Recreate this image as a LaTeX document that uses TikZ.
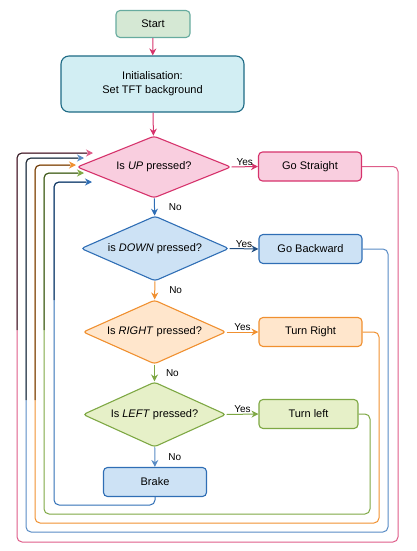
\documentclass[tikz,border=0pt]{standalone}
\usepackage{fontspec}
\setmainfont{Liberation Sans}
\usetikzlibrary{shapes.geometric,arrows.meta}
\definecolor{pinkline}{HTML}{D6336C}
\definecolor{pinkfill}{HTML}{F9CEDF}
\definecolor{bluefill}{HTML}{CDE2F5}
\definecolor{blueline}{HTML}{2F6EB5}
\definecolor{orangefill}{HTML}{FFE6CC}
\definecolor{orangeline}{HTML}{F09030}
\definecolor{greenfill}{HTML}{E6F0C8}
\definecolor{greenline}{HTML}{7EA844}
\definecolor{startfill}{HTML}{D5E8D4}
\definecolor{startline}{HTML}{67AB9F}
\definecolor{initfill}{HTML}{D2EEF3}
\definecolor{initline}{HTML}{1D6A85}
\begin{document}
\begin{tikzpicture}[x=1pt, y=-1pt, line width=1pt,
		font=\fontsize{11}{13}\selectfont,
		box/.style={draw, line width=1.1pt, rounded corners=4pt, minimum width=103pt, minimum height=29pt, inner sep=0pt},
		quest/.style={diamond, draw, line width=1.1pt, rounded corners=3pt, aspect=2.4, inner sep=0pt},
		flow/.style={-{Stealth[length=7pt,width=7pt]}},
		back/.style={rounded corners=5pt, -{Stealth[length=7pt,width=7pt]}},
		lbl/.style={font=\fontsize{10}{12}\selectfont, inner sep=1pt}
		]
	\useasboundingbox (0,0) rectangle (417,551);
	% blocks
	\node [box, fill=startfill, draw=startline, minimum width=74pt, minimum height=27pt] (start) at (153,24) {Start};
	\node [box, fill=initfill, draw=initline, rounded corners=8pt, minimum width=183pt, minimum height=56pt, align=center] (init) at (152.5,84) {Initialisation:\\[1pt]Set TFT background};
	\node [quest, fill=pinkfill, draw=pinkline, minimum width=154pt, minimum height=62pt] (qup) at (154,167) {Is \textit{UP} pressed?};
	\node [quest, fill=bluefill, draw=blueline, minimum width=148pt, minimum height=65pt] (qdown) at (155,248.5) {is \textit{DOWN} pressed?};
	\node [quest, fill=orangefill, draw=orangeline, minimum width=143pt, minimum height=64pt] (qright) at (154.5,332) {Is \textit{RIGHT} pressed?};
	\node [quest, fill=greenfill, draw=greenline, minimum width=143pt, minimum height=65pt] (qleft) at (154.5,414.5) {Is \textit{LEFT} pressed?};
	\node [box, fill=pinkfill, draw=pinkline] (straight) at (310,166.5) {Go Straight};
	\node [box, fill=bluefill, draw=blueline] (backward) at (310.5,249) {Go Backward};
	\node [box, fill=orangefill, draw=orangeline] (turnr) at (310.5,332) {Turn Right};
	\node [box, fill=greenfill, draw=greenline, minimum width=99pt] (turnl) at (308.5,414) {Turn left};
	\node [box, fill=bluefill, draw=blueline] (brake) at (155,482) {Brake};
	% loose ends of the way back
	\coordinate (tip1) at (93,153);
	\coordinate (tip2) at (84,158);
	\coordinate (tip3) at (76,165);
	\coordinate (tip4) at (84,173);
	\coordinate (tip5) at (92,182);
	% flow
	\draw [flow, pinkline] (start) -- (init);
	\draw [flow, pinkline] (init) -- (qup);
	\draw [flow, pinkline] (qup.east) -- node [lbl, above, black] {Yes} (straight.west);
	\draw [flow, blueline] (qup) -- node [lbl, right, black, xshift=13pt] {No} (qdown);
	\draw [flow, blueline!70!black] (qdown.east) -- node [lbl, above, black] {Yes} (backward.west);
	\draw [flow, orangeline] (qdown) -- node [lbl, right, black, xshift=13pt] {No} (qright);
	\draw [flow, orangeline] (qright.east) -- node [lbl, above, black] {Yes} (turnr.west);
	\draw [flow, greenline] (qright) -- node [lbl, right, black, xshift=10pt] {No} (qleft);
	\draw [flow, greenline] (qleft.east) -- node [lbl, above, black] {Yes} (turnl.west);
	\draw [flow, blueline!80] (qleft) -- node [lbl, right, black, xshift=12pt] {No} (brake);
	% back to the first question
	\draw [back, pinkline!80] (straight.east) -| (398,542) -| (17,153) -- (tip1);
	\draw [rounded corners=5pt, black!85, shorten >=6pt] (17,330) |- (tip1);
	\draw [back, blueline!80] (backward.east) -| (388,532) -| (26,158) -- (tip2);
	\draw [rounded corners=5pt, black!85, shorten >=6pt] (26,400) |- (tip2);
	\draw [back, orangeline] (turnr.east) -| (379,523) -| (35,165) -- (tip3);
	\draw [rounded corners=5pt, orangeline!40!black, shorten >=6pt] (35,400) |- (tip3);
	\draw [back, greenline] (turnl.east) -| (370,514) -| (44,173) -- (tip4);
	\draw [rounded corners=5pt, greenline!50!black, shorten >=6pt] (44,330) |- (tip4);
	\draw [back, blueline] (brake.south) |- (54,505) |- (tip5);
	\draw [rounded corners=5pt, blueline!50!black, shorten >=6pt] (54,300) |- (tip5);
\end{tikzpicture}
\end{document}
